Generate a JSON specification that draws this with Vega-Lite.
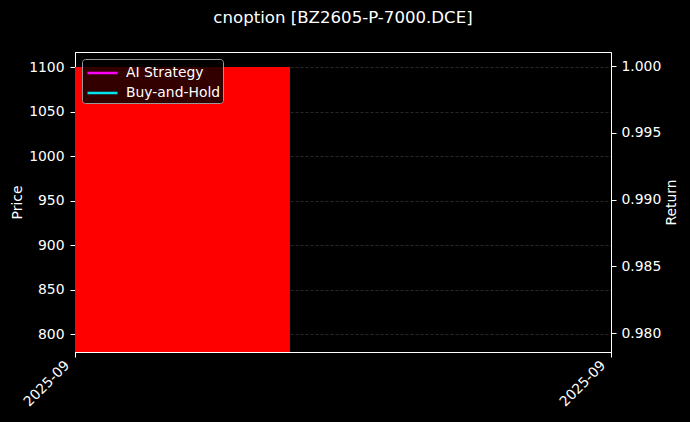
{
  "$schema": "https://vega.github.io/schema/vega-lite/v6.json",
  "width": 536,
  "height": 300,
  "autosize": {"type": "none"},
  "padding": {"left": 75, "top": 52, "right": 79, "bottom": 70},
  "background": "#000000",
  "title": {
    "text": "cnoption [BZ2605-P-7000.DCE]",
    "color": "#ffffff",
    "font": "DejaVu Sans",
    "fontSize": 16.6,
    "fontWeight": "normal",
    "anchor": "middle",
    "offset": 25
  },
  "datasets": {
    "price": [
      {"start": "2025-09-01T00:00:00", "end": "2025-09-01T19:15:00", "close": 1100}
    ],
    "returns": [
      {"date": "2025-09-01T00:00:00", "series": "AI Strategy", "value": 1.0},
      {"date": "2025-09-01T00:00:00", "series": "Buy-and-Hold", "value": 1.0}
    ]
  },
  "layer": [
    {
      "data": {"name": "price"},
      "mark": {"type": "rect", "color": "#ff0000", "clip": true},
      "encoding": {
        "x": {
          "field": "start",
          "type": "temporal",
          "scale": {"domain": ["2025-09-01T00:00:00", "2025-09-03T00:00:00"]},
          "axis": {
            "title": null,
            "values": ["2025-09-01T00:00:00", "2025-09-03T00:00:00"],
            "format": "%Y-%m",
            "labelAngle": -45,
            "labelAlign": "right",
            "labelBaseline": "middle",
            "labelPadding": 6,
            "labelOffset": -8,
            "grid": false
          }
        },
        "x2": {"field": "end"},
        "y": {
          "field": "close",
          "type": "quantitative",
          "scale": {"domain": [779.8, 1116.9], "zero": false, "nice": false},
          "axis": {
            "title": "Price",
            "values": [800, 850, 900, 950, 1000, 1050, 1100],
            "format": "d",
            "orient": "left",
            "labelPadding": 6
          }
        },
        "y2": {"datum": 0}
      }
    },
    {
      "data": {"name": "returns"},
      "mark": {"type": "line", "strokeWidth": 2.5},
      "encoding": {
        "x": {"field": "date", "type": "temporal"},
        "y": {
          "field": "value",
          "type": "quantitative",
          "scale": {"domain": [0.97858, 1.00105], "zero": false, "nice": false},
          "axis": {
            "title": "Return",
            "titleAngle": 270,
            "titleBaseline": "top",
            "orient": "right",
            "labelPadding": 5,
            "values": [0.98, 0.985, 0.99, 0.995, 1.0],
            "format": ".3f"
          }
        },
        "stroke": {
          "field": "series",
          "type": "nominal",
          "scale": {"domain": ["AI Strategy", "Buy-and-Hold"], "range": ["#ff00ff", "#00e5ee"]},
          "legend": {
            "title": null,
            "orient": "top-left",
            "offset": 7,
            "padding": 2.5,
            "fillColor": "rgba(0,0,0,0.8)",
            "strokeColor": "#999999",
            "cornerRadius": 3,
            "symbolType": "M-1.5,0L1.5,0",
            "symbolSize": 400,
            "symbolOffset": 6.5,
            "symbolStrokeWidth": 2.5,
            "labelOffset": 12,
            "labelColor": "#ffffff",
            "labelFont": "DejaVu Sans",
            "labelFontSize": 13.9,
            "rowPadding": 1
          }
        }
      }
    }
  ],
  "resolve": {"scale": {"y": "independent"}},
  "config": {
    "view": {"stroke": "#ffffff", "strokeWidth": 1},
    "axis": {
      "domainColor": "#ffffff",
      "tickColor": "#ffffff",
      "tickSize": 5,
      "labelColor": "#ffffff",
      "labelFont": "DejaVu Sans",
      "labelFontSize": 13.9,
      "titleColor": "#ffffff",
      "titleFont": "DejaVu Sans",
      "titleFontSize": 13.9,
      "titleFontWeight": "normal",
      "grid": true,
      "gridColor": "#555555",
      "gridDash": [3, 2],
      "gridWidth": 0.6,
      "gridOpacity": 0.8
    }
  }
}
